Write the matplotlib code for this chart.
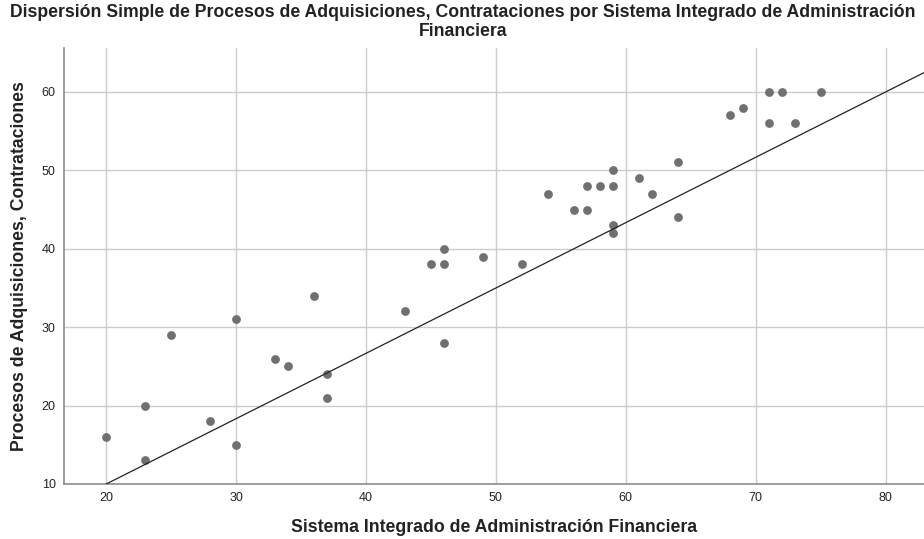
import matplotlib
matplotlib.use("Agg")
import matplotlib.pyplot as plt

sistema = [20, 23, 23, 25, 30, 30, 28, 33, 34, 36, 37, 37,
           43, 45, 46, 46, 46, 49, 52, 54, 56, 57, 57, 58, 59, 59, 59, 59, 61, 62, 64, 64,
           68, 69, 71, 72, 75, 71, 73]
procesos = [16, 20, 13, 29, 31, 15, 18, 26, 25, 34, 24, 21,
            32, 38, 38, 40, 28, 39, 38, 47, 45, 45, 48, 48, 48, 50, 43, 42, 49, 47, 51, 44,
            57, 58, 60, 60, 60, 56, 56]
line_x = [20, 83]
line_y = [10, 62.5]
x_ticks = [20, 30, 40, 50, 60, 70, 80]
y_ticks = [10, 20, 30, 40, 50, 60]

plt.rcParams['font.family'] = ['Liberation Sans', 'DejaVu Sans']

W, H = 924, 539
fig = plt.figure(figsize=(W/100, H/100), dpi=100)
ax = fig.add_axes([64/W, 1-484/H, 1-64/W, (484-48)/H])

ax.set_xlim(16.75, 82.95)
ax.set_ylim(10, 65.6)
ax.set_xticks(x_ticks)
ax.set_yticks(y_ticks)
ax.grid(True, color='#cccccc', linewidth=1.0)
ax.set_axisbelow(True)
ax.tick_params(length=0, labelsize=9, colors='#222222', pad=6)

ax.scatter(sistema, procesos, s=40, color='#707070', zorder=3, linewidths=0)
ax.plot(line_x, line_y, color='#222222', linewidth=0.9, zorder=4)

for s in ['top', 'right']:
    ax.spines[s].set_visible(False)
for s in ['left', 'bottom']:
    ax.spines[s].set_color('#8c8c8c')
    ax.spines[s].set_linewidth(1.2)

fig.text(494/W, 1-528/H, 'Sistema Integrado de Administración Financiera', fontsize=12.7,
         fontweight='bold', color='#222222', ha='center', va='center')
fig.text(19.5/W, 1-266/H, 'Procesos de Adquisiciones, Contrataciones', fontsize=12.7,
         fontweight='bold', color='#222222', ha='center', va='center', rotation=90)

fig.text(463/W, 1-4/H, 'Dispersión Simple de Procesos de Adquisiciones, Contrataciones por Sistema Integrado de Administración\nFinanciera',
         ha='center', va='top', fontsize=12.7, fontweight='bold', color='#222222', linespacing=1.15)

fig.savefig('out.png', dpi=100)
